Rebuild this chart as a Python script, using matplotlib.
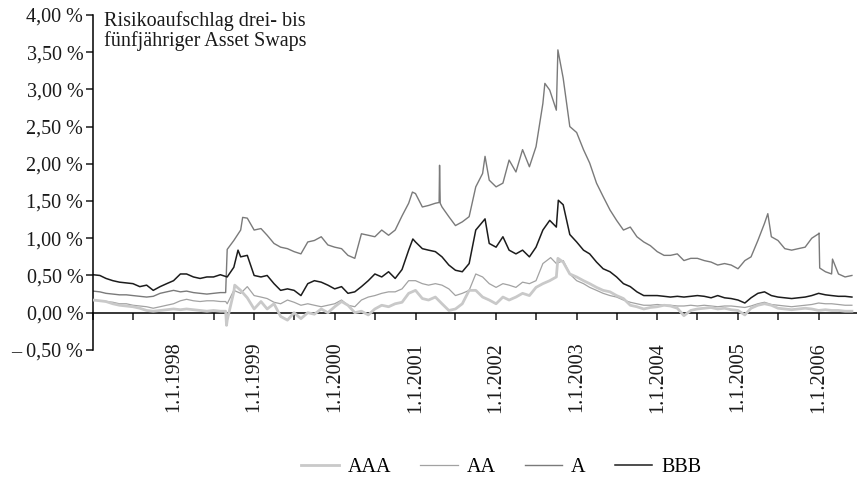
import matplotlib
matplotlib.use("Agg")
import matplotlib.pyplot as plt
import matplotlib.dates as mdates
import matplotlib.ticker as mticker
import pandas as pd
import numpy as np

plt.rcParams['font.family'] = ['Liberation Serif', 'DejaVu Serif']
FS = 14.5

# monthly readings, Jan 1997 .. Jun 2006 (in %)
months = pd.date_range('1997-01-01', periods=114, freq='MS')

aaa = [0.17, 0.16, 0.15, 0.12, 0.10, 0.09, 0.08, 0.06, 0.03, 0.02, 0.03, 0.04,
       0.05, 0.04, 0.05, 0.04, 0.03, 0.02, 0.03, 0.02, -0.10, 0.28, 0.30, 0.20,
       0.05, 0.15, 0.05, 0.12, -0.05, -0.10, 0.00, -0.08, 0.00, -0.02, 0.05, 0.00,
       0.08, 0.15, 0.10, 0.00, 0.02, -0.03, 0.05, 0.10, 0.08, 0.12, 0.14, 0.26,
       0.30, 0.19, 0.17, 0.21, 0.12, 0.03, 0.05, 0.12, 0.30, 0.30, 0.21, 0.17,
       0.12, 0.21, 0.17, 0.21, 0.26, 0.23, 0.34, 0.39, 0.43, 0.48, 0.68, 0.52,
       0.48, 0.43, 0.39, 0.34, 0.30, 0.28, 0.23, 0.19, 0.10, 0.08, 0.05, 0.07,
       0.08, 0.10, 0.09, 0.06, -0.04, 0.03, 0.05, 0.06, 0.07, 0.05, 0.06, 0.04,
       0.03, -0.03, 0.06, 0.10, 0.12, 0.10, 0.06, 0.05, 0.04, 0.05, 0.06, 0.05,
       0.03, 0.04, 0.03, 0.03, 0.02, 0.02]

aa = [0.17, 0.16, 0.15, 0.14, 0.12, 0.12, 0.10, 0.09, 0.08, 0.06, 0.08, 0.10,
      0.12, 0.16, 0.18, 0.16, 0.15, 0.16, 0.16, 0.15, 0.12, 0.30, 0.26, 0.35,
      0.23, 0.21, 0.19, 0.14, 0.12, 0.17, 0.14, 0.10, 0.12, 0.10, 0.08, 0.10,
      0.12, 0.17, 0.10, 0.08, 0.17, 0.21, 0.23, 0.26, 0.28, 0.28, 0.32, 0.43,
      0.43, 0.39, 0.37, 0.39, 0.37, 0.32, 0.23, 0.26, 0.30, 0.52, 0.48, 0.39,
      0.34, 0.39, 0.37, 0.34, 0.41, 0.39, 0.43, 0.66, 0.73, 0.66, 0.70, 0.52,
      0.43, 0.39, 0.34, 0.30, 0.26, 0.23, 0.21, 0.17, 0.14, 0.12, 0.10, 0.10,
      0.11, 0.10, 0.10, 0.09, 0.09, 0.10, 0.09, 0.10, 0.09, 0.08, 0.09, 0.09,
      0.08, 0.07, 0.09, 0.12, 0.14, 0.11, 0.10, 0.09, 0.08, 0.09, 0.10, 0.11,
      0.13, 0.12, 0.12, 0.11, 0.10, 0.10]

a = [0.29, 0.28, 0.26, 0.25, 0.24, 0.24, 0.23, 0.22, 0.21, 0.22, 0.26, 0.28,
     0.30, 0.28, 0.29, 0.27, 0.26, 0.25, 0.26, 0.27, 0.85, 0.97, 1.11, 1.27,
     1.11, 1.13, 1.04, 0.93, 0.88, 0.86, 0.82, 0.79, 0.95, 0.97, 1.02, 0.91,
     0.88, 0.86, 0.77, 0.73, 1.06, 1.04, 1.02, 1.11, 1.04, 1.11, 1.30, 1.47,
     1.60, 1.42, 1.44, 1.47, 1.42, 1.29, 1.17, 1.22, 1.29, 1.69, 1.87, 1.78,
     1.69, 1.74, 2.05, 1.89, 2.19, 1.96, 2.23, 2.81, 2.99, 2.72, 3.15, 2.50,
     2.42, 2.19, 2.01, 1.74, 1.56, 1.38, 1.24, 1.11, 1.15, 1.02, 0.95, 0.90,
     0.82, 0.77, 0.77, 0.79, 0.70, 0.73, 0.73, 0.70, 0.68, 0.64, 0.66, 0.64,
     0.59, 0.70, 0.75, 0.97, 1.20, 1.02, 0.97, 0.86, 0.84, 0.86, 0.88, 1.00,
     1.06, 0.55, 0.52, 0.52, 0.48, 0.50]

bbb = [0.51, 0.50, 0.46, 0.43, 0.41, 0.40, 0.39, 0.35, 0.37, 0.30, 0.35, 0.39,
       0.43, 0.52, 0.52, 0.48, 0.46, 0.48, 0.48, 0.51, 0.48, 0.61, 0.75, 0.77,
       0.50, 0.48, 0.50, 0.39, 0.30, 0.32, 0.30, 0.23, 0.39, 0.43, 0.41, 0.37,
       0.32, 0.35, 0.26, 0.28, 0.35, 0.43, 0.52, 0.48, 0.55, 0.46, 0.58, 0.84,
       0.95, 0.86, 0.84, 0.82, 0.75, 0.64, 0.57, 0.55, 0.66, 1.11, 1.22, 0.93,
       0.88, 1.02, 0.84, 0.79, 0.84, 0.75, 0.88, 1.11, 1.24, 1.15, 1.45, 1.05,
       0.95, 0.84, 0.79, 0.68, 0.59, 0.55, 0.48, 0.39, 0.35, 0.28, 0.23, 0.23,
       0.23, 0.22, 0.21, 0.22, 0.21, 0.22, 0.23, 0.22, 0.20, 0.23, 0.20, 0.19,
       0.17, 0.13, 0.20, 0.26, 0.28, 0.23, 0.21, 0.20, 0.19, 0.20, 0.21, 0.23,
       0.26, 0.24, 0.23, 0.22, 0.22, 0.21]

# short-lived peaks read between month starts
aaa_extra_d = ['1998-08-25', '1998-08-29', '1998-10-05', '2002-10-08']
aaa_extra_v = [0.02, -0.17, 0.37, 0.73]
aa_extra_d = ['1998-08-25', '2002-09-05']
aa_extra_v = [0.15, 0.74]
a_extra_d = ['1998-08-25', '1998-11-10', '2000-12-18', '2001-04-18', '2001-04-20',
             '2001-04-23', '2001-11-12', '2002-08-10', '2002-10-08', '2005-05-16',
             '2006-01-03', '2006-01-06', '2006-03-05']
a_extra_v = [0.27, 1.28, 1.62, 1.48, 1.98, 1.47, 2.10, 3.08, 3.53, 1.33,
             1.07, 0.60, 0.72]
bbb_extra_d = ['1998-10-20', '2000-12-20', '2001-11-12', '2002-10-10']
bbb_extra_v = [0.84, 0.99, 1.26, 1.51]


def series(vals, extra_d, extra_v):
    s = pd.Series(vals, index=months)
    e = pd.Series(extra_v, index=pd.to_datetime(extra_d))
    return pd.concat([s, e]).sort_index()


fig = plt.figure(figsize=(8.57, 4.8), dpi=100)
ax = fig.add_axes([0.1085, 0.271, 0.8915, 0.698])

styles = [
    ('AAA', series(aaa, aaa_extra_d, aaa_extra_v), '#c9c9c9', 2.0),
    ('AA', series(aa, aa_extra_d, aa_extra_v), '#a2a2a2', 0.9),
    ('A', series(a, a_extra_d, a_extra_v), '#7a7a7a', 1.0),
    ('BBB', series(bbb, bbb_extra_d, bbb_extra_v), '#1c1c1c', 1.1),
]
order = {'A': 1, 'BBB': 2, 'AA': 3, 'AAA': 4}
for name, s, col, lw in styles:
    ax.plot(s.index, s.values, color=col, lw=lw, label=name, zorder=order[name])

ax.set_xlim(pd.Timestamp('1997-01-01'), pd.Timestamp('2006-06-24'))
ax.set_ylim(-0.5, 4.0)

ax.spines['top'].set_visible(False)
ax.spines['right'].set_visible(False)
ax.spines['bottom'].set_position(('data', 0))
for sp in ('left', 'bottom'):
    ax.spines[sp].set_linewidth(1.1)

ax.yaxis.set_major_locator(mticker.MultipleLocator(0.5))
ax.yaxis.set_major_formatter(mticker.FuncFormatter(
    lambda v, p: ('– ' if v < 0 else '') + f'{abs(v):.2f}'.replace('.', ',') + ' %'))

ax.xaxis.set_major_locator(mdates.YearLocator(1, month=1, day=1))
ax.xaxis.set_minor_locator(mdates.MonthLocator(bymonth=7))
ax.xaxis.set_major_formatter(mdates.DateFormatter('1.1.%Y'))
ax.tick_params(axis='both', which='both', direction='out', length=5, width=1.1,
               labelsize=FS, colors='#1a1a1a')
ax.tick_params(axis='x', which='major', pad=16, labelrotation=90)
ax.tick_params(axis='y', pad=2)
# first year label (1997) sits on the y axis in the original, hide it
for lbl in ax.get_xticklabels():
    if lbl.get_text().endswith('1997'):
        lbl.set_visible(False)

ax.text(0.014, 1.012, 'Risikoaufschlag drei- bis\nfünfjähriger Asset Swaps',
        transform=ax.transAxes, ha='left', va='top', fontsize=FS,
        color='#1a1a1a', linespacing=1.05)

fig.legend(loc='center', bbox_to_anchor=(0.585, 0.027), ncol=4, frameon=False,
           fontsize=FS, handlelength=1.85, handletextpad=0.45, columnspacing=1.45)

fig.savefig('out.png', dpi=100)
